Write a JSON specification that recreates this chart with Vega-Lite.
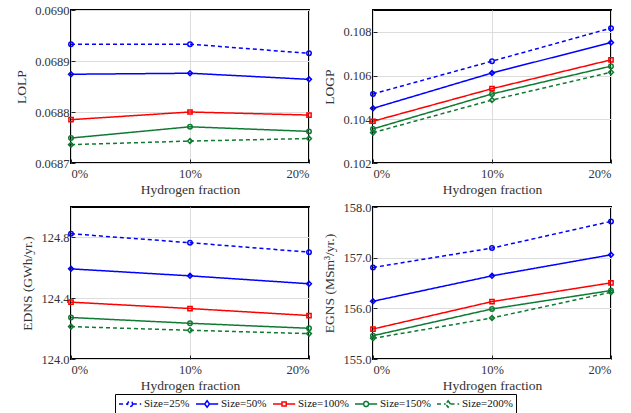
{
  "$schema": "https://vega.github.io/schema/vega-lite/v6.json",
  "background": "white",
  "padding": {"left": 13, "top": 3, "right": 5, "bottom": 0},
  "data": {"values": [
    {"frac": 0, "size": "Size=25%", "LOLP": 0.068933, "LOGP": 0.10516, "EDNS": 124.824, "EGNS": 156.806},
    {"frac": 10, "size": "Size=25%", "LOLP": 0.068933, "LOGP": 0.10666, "EDNS": 124.765, "EGNS": 157.189},
    {"frac": 20, "size": "Size=25%", "LOLP": 0.068915, "LOGP": 0.10817, "EDNS": 124.703, "EGNS": 157.716},
    {"frac": 0, "size": "Size=50%", "LOLP": 0.068874, "LOGP": 0.10450, "EDNS": 124.593, "EGNS": 156.140},
    {"frac": 10, "size": "Size=50%", "LOLP": 0.068876, "LOGP": 0.10612, "EDNS": 124.547, "EGNS": 156.641},
    {"frac": 20, "size": "Size=50%", "LOLP": 0.068864, "LOGP": 0.10751, "EDNS": 124.495, "EGNS": 157.057},
    {"frac": 0, "size": "Size=100%", "LOLP": 0.068785, "LOGP": 0.10391, "EDNS": 124.374, "EGNS": 155.592},
    {"frac": 10, "size": "Size=100%", "LOLP": 0.068800, "LOGP": 0.10540, "EDNS": 124.332, "EGNS": 156.133},
    {"frac": 20, "size": "Size=100%", "LOLP": 0.068794, "LOGP": 0.10672, "EDNS": 124.286, "EGNS": 156.503},
    {"frac": 0, "size": "Size=150%", "LOLP": 0.068749, "LOGP": 0.10356, "EDNS": 124.273, "EGNS": 155.460},
    {"frac": 10, "size": "Size=150%", "LOLP": 0.068771, "LOGP": 0.10516, "EDNS": 124.235, "EGNS": 155.988},
    {"frac": 20, "size": "Size=150%", "LOLP": 0.068762, "LOGP": 0.10643, "EDNS": 124.202, "EGNS": 156.351},
    {"frac": 0, "size": "Size=200%", "LOLP": 0.068736, "LOGP": 0.10339, "EDNS": 124.213, "EGNS": 155.408},
    {"frac": 10, "size": "Size=200%", "LOLP": 0.068743, "LOGP": 0.10488, "EDNS": 124.189, "EGNS": 155.810},
    {"frac": 20, "size": "Size=200%", "LOLP": 0.068748, "LOGP": 0.10615, "EDNS": 124.167, "EGNS": 156.318}
  ]},
  "columns": 2,
  "spacing": {"row": 44, "column": 64},
  "bounds": "flush",
  "resolve": {"scale": {"y": "independent", "x": "independent", "color": "shared", "strokeDash": "shared"}},
  "concat": [
    {
      "width": 238, "height": 153,
      "layer": [
        {"mark": {"type": "line", "strokeWidth": 1.5},
         "encoding": {
           "x": {"field": "frac", "type": "quantitative", "scale": {"domain": [0, 20], "nice": false}, "axis": {"values": [0, 10, 20], "labelExpr": "datum.value + '%'", "title": "Hydrogen fraction"}},
           "y": {"field": "LOLP", "type": "quantitative", "scale": {"domain": [0.0687, 0.069], "nice": false, "zero": false}, "axis": {"values": [0.0687, 0.0688, 0.0689, 0.069], "format": ".4f", "title": "LOLP"}},
           "color": {"field": "size", "type": "nominal", "sort": null, "scale": {"domain": ["Size=25%", "Size=50%", "Size=100%", "Size=150%", "Size=200%"], "range": ["#0000FF", "#0000FF", "#FF0000", "#0E7A32", "#0E7A32"]},
             "legend": {"title": null, "encode": {"symbols": {"update": {"size": {"value": 144}, "fill": {"value": "transparent"}, "shape": {"signal": "datum.value === 'Size=25%' || datum.value === 'Size=150%' ? 'M-1,0L0.4,0M1.3,0L2.7,0M1.3,0L1.15,0.32L0.85,0.45L0.55,0.32L0.4,0L0.55,-0.32L0.85,-0.45L1.15,-0.32Z' : datum.value === 'Size=100%' ? 'M-1,0L0.5,0M1.2,0L2.7,0M0.5,-0.35L1.2,-0.35L1.2,0.35L0.5,0.35Z' : 'M-1,0L0.45,0M1.25,0L2.7,0M0.85,-0.55L1.25,0L0.85,0.55L0.45,0Z'"}}}}}},
           "strokeDash": {"field": "size", "type": "nominal", "sort": null, "scale": {"domain": ["Size=25%", "Size=50%", "Size=100%", "Size=150%", "Size=200%"], "range": [[4, 3], [1, 0], [1, 0], [1, 0], [4, 3]]}, "legend": {"title": null}}
         }},
        {"transform": [{"filter": {"field": "size", "oneOf": ["Size=25%", "Size=150%"]}}],
         "mark": {"type": "point", "shape": "circle", "filled": false, "strokeWidth": 1.5, "size": 20, "opacity": 1},
         "encoding": {"x": {"field": "frac", "type": "quantitative"}, "y": {"field": "LOLP", "type": "quantitative"}, "color": {"field": "size", "type": "nominal", "sort": null, "legend": {"title": null}}}},
        {"transform": [{"filter": {"field": "size", "oneOf": ["Size=50%", "Size=200%"]}}],
         "mark": {"type": "point", "shape": "diamond", "filled": false, "strokeWidth": 1.5, "size": 24, "opacity": 1},
         "encoding": {"x": {"field": "frac", "type": "quantitative"}, "y": {"field": "LOLP", "type": "quantitative"}, "color": {"field": "size", "type": "nominal", "sort": null, "legend": {"title": null}}}},
        {"transform": [{"filter": {"field": "size", "equal": "Size=100%"}}],
         "mark": {"type": "point", "shape": "square", "filled": false, "strokeWidth": 1.5, "size": 18, "opacity": 1},
         "encoding": {"x": {"field": "frac", "type": "quantitative"}, "y": {"field": "LOLP", "type": "quantitative"}, "color": {"field": "size", "type": "nominal", "sort": null, "legend": {"title": null}}}}
      ]
    },
    {
      "width": 238, "height": 153,
      "layer": [
        {"mark": {"type": "line", "strokeWidth": 1.5},
         "encoding": {
           "x": {"field": "frac", "type": "quantitative", "scale": {"domain": [0, 20], "nice": false}, "axis": {"values": [0, 10, 20], "labelExpr": "datum.value + '%'", "title": "Hydrogen fraction"}},
           "y": {"field": "LOGP", "type": "quantitative", "scale": {"domain": [0.102, 0.109], "nice": false, "zero": false}, "axis": {"values": [0.102, 0.104, 0.106, 0.108], "format": ".3f", "title": "LOGP"}},
           "color": {"field": "size", "type": "nominal", "sort": null, "legend": {"title": null}},
           "strokeDash": {"field": "size", "type": "nominal", "sort": null, "legend": {"title": null}}
         }},
        {"transform": [{"filter": {"field": "size", "oneOf": ["Size=25%", "Size=150%"]}}],
         "mark": {"type": "point", "shape": "circle", "filled": false, "strokeWidth": 1.5, "size": 20, "opacity": 1},
         "encoding": {"x": {"field": "frac", "type": "quantitative"}, "y": {"field": "LOGP", "type": "quantitative"}, "color": {"field": "size", "type": "nominal", "sort": null, "legend": {"title": null}}}},
        {"transform": [{"filter": {"field": "size", "oneOf": ["Size=50%", "Size=200%"]}}],
         "mark": {"type": "point", "shape": "diamond", "filled": false, "strokeWidth": 1.5, "size": 24, "opacity": 1},
         "encoding": {"x": {"field": "frac", "type": "quantitative"}, "y": {"field": "LOGP", "type": "quantitative"}, "color": {"field": "size", "type": "nominal", "sort": null, "legend": {"title": null}}}},
        {"transform": [{"filter": {"field": "size", "equal": "Size=100%"}}],
         "mark": {"type": "point", "shape": "square", "filled": false, "strokeWidth": 1.5, "size": 18, "opacity": 1},
         "encoding": {"x": {"field": "frac", "type": "quantitative"}, "y": {"field": "LOGP", "type": "quantitative"}, "color": {"field": "size", "type": "nominal", "sort": null, "legend": {"title": null}}}}
      ]
    },
    {
      "width": 238, "height": 152,
      "layer": [
        {"mark": {"type": "line", "strokeWidth": 1.5},
         "encoding": {
           "x": {"field": "frac", "type": "quantitative", "scale": {"domain": [0, 20], "nice": false}, "axis": {"values": [0, 10, 20], "labelExpr": "datum.value + '%'", "title": "Hydrogen fraction"}},
           "y": {"field": "EDNS", "type": "quantitative", "scale": {"domain": [124, 125], "nice": false, "zero": false}, "axis": {"values": [124, 124.2, 124.4, 124.6, 124.8, 125], "format": ".1f", "title": "EDNS (GWh/yr.)"}},
           "color": {"field": "size", "type": "nominal", "sort": null, "legend": {"title": null}},
           "strokeDash": {"field": "size", "type": "nominal", "sort": null, "legend": {"title": null}}
         }},
        {"transform": [{"filter": {"field": "size", "oneOf": ["Size=25%", "Size=150%"]}}],
         "mark": {"type": "point", "shape": "circle", "filled": false, "strokeWidth": 1.5, "size": 20, "opacity": 1},
         "encoding": {"x": {"field": "frac", "type": "quantitative"}, "y": {"field": "EDNS", "type": "quantitative"}, "color": {"field": "size", "type": "nominal", "sort": null, "legend": {"title": null}}}},
        {"transform": [{"filter": {"field": "size", "oneOf": ["Size=50%", "Size=200%"]}}],
         "mark": {"type": "point", "shape": "diamond", "filled": false, "strokeWidth": 1.5, "size": 24, "opacity": 1},
         "encoding": {"x": {"field": "frac", "type": "quantitative"}, "y": {"field": "EDNS", "type": "quantitative"}, "color": {"field": "size", "type": "nominal", "sort": null, "legend": {"title": null}}}},
        {"transform": [{"filter": {"field": "size", "equal": "Size=100%"}}],
         "mark": {"type": "point", "shape": "square", "filled": false, "strokeWidth": 1.5, "size": 18, "opacity": 1},
         "encoding": {"x": {"field": "frac", "type": "quantitative"}, "y": {"field": "EDNS", "type": "quantitative"}, "color": {"field": "size", "type": "nominal", "sort": null, "legend": {"title": null}}}}
      ]
    },
    {
      "width": 238, "height": 152,
      "layer": [
        {"mark": {"type": "line", "strokeWidth": 1.5},
         "encoding": {
           "x": {"field": "frac", "type": "quantitative", "scale": {"domain": [0, 20], "nice": false}, "axis": {"values": [0, 10, 20], "labelExpr": "datum.value + '%'", "title": "Hydrogen fraction"}},
           "y": {"field": "EGNS", "type": "quantitative", "scale": {"domain": [155, 158], "nice": false, "zero": false}, "axis": {"values": [155, 155.5, 156, 156.5, 157, 157.5, 158], "format": ".1f", "title": "EGNS (MSm³/yr.)"}},
           "color": {"field": "size", "type": "nominal", "sort": null, "legend": {"title": null}},
           "strokeDash": {"field": "size", "type": "nominal", "sort": null, "legend": {"title": null}}
         }},
        {"transform": [{"filter": {"field": "size", "oneOf": ["Size=25%", "Size=150%"]}}],
         "mark": {"type": "point", "shape": "circle", "filled": false, "strokeWidth": 1.5, "size": 20, "opacity": 1},
         "encoding": {"x": {"field": "frac", "type": "quantitative"}, "y": {"field": "EGNS", "type": "quantitative"}, "color": {"field": "size", "type": "nominal", "sort": null, "legend": {"title": null}}}},
        {"transform": [{"filter": {"field": "size", "oneOf": ["Size=50%", "Size=200%"]}}],
         "mark": {"type": "point", "shape": "diamond", "filled": false, "strokeWidth": 1.5, "size": 24, "opacity": 1},
         "encoding": {"x": {"field": "frac", "type": "quantitative"}, "y": {"field": "EGNS", "type": "quantitative"}, "color": {"field": "size", "type": "nominal", "sort": null, "legend": {"title": null}}}},
        {"transform": [{"filter": {"field": "size", "equal": "Size=100%"}}],
         "mark": {"type": "point", "shape": "square", "filled": false, "strokeWidth": 1.5, "size": 18, "opacity": 1},
         "encoding": {"x": {"field": "frac", "type": "quantitative"}, "y": {"field": "EGNS", "type": "quantitative"}, "color": {"field": "size", "type": "nominal", "sort": null, "legend": {"title": null}}}}
      ]
    }
  ],
  "config": {
    "font": "Liberation Serif",
    "view": {"stroke": "black", "strokeWidth": 2},
    "axis": {"labelFont": "Liberation Serif", "labelFontSize": 12.5, "labelColor": "#333333", "titleFont": "Liberation Serif", "titleFontSize": 13.5, "titleFontWeight": "normal", "titleColor": "#333333", "grid": true, "gridColor": "#dddddd", "gridWidth": 1, "domain": false, "tickColor": "#222222", "tickSize": -4, "tickWidth": 1, "titlePadding": 3},
    "axisX": {"labelPadding": 8},
    "axisY": {"labelPadding": 6, "titlePadding": 6},
    "legend": {
      "orient": "bottom", "direction": "horizontal", "symbolSize": 144, "strokeColor": "black", "padding": 3,
      "labelFont": "Liberation Serif", "labelFontSize": 11, "labelColor": "#111111", "columnPadding": 3, "labelOffset": 12,
      "gridAlign": "none",
      "symbolStrokeWidth": 1.5, "offset": 1,
      "symbolType": "stroke",
      "layout": {"bottom": {"anchor": "middle"}}
    }
  }
}
